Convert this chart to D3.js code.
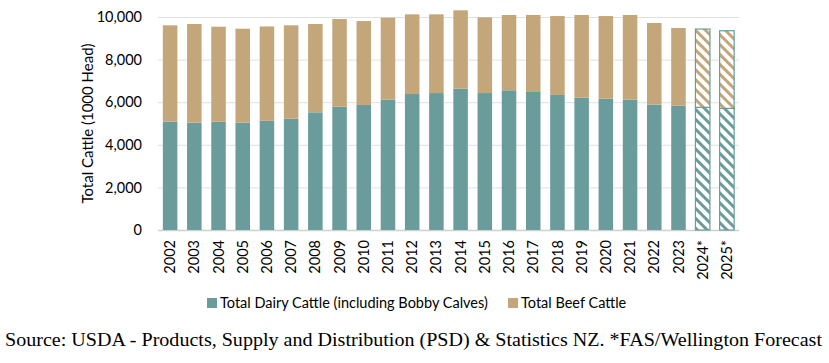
<!DOCTYPE html>
<html lang="en">
<head>
<meta charset="UTF-8">
<title>NZ Cattle Numbers</title>
<style>
  body { margin: 0; background: #fff; }
  svg { display: block; }
  .tick text { font-family: Lato, "Open Sans", sans-serif; fill: #000; }
</style>
</head>
<body>
<svg id="chart" width="829" height="363"></svg>
<script src="https://d3js.org/d3.v7.min.js"></script>
<script>
// --- data ---
const years = ["2002","2003","2004","2005","2006","2007","2008","2009","2010","2011","2012","2013",
               "2014","2015","2016","2017","2018","2019","2020","2021","2022","2023","2024*","2025*"];
const dairy = [5090,5040,5085,5040,5125,5225,5525,5790,5870,6120,6385,6430,
               6635,6430,6560,6480,6340,6210,6165,6120,5885,5835,5760,5710];
const total = [9610,9670,9545,9450,9555,9610,9670,9905,9810,9970,10125,10125,
               10315,9985,10095,10095,10045,10095,10045,10095,9720,9485,9435,9355];
const beef = total.map((t, i) => t - dairy[i]);
const forecast = ["2024*","2025*"];
const yTicks = [0, 2000, 4000, 6000, 8000, 10000];

const DAIRY_COL = "#699c9b";
const BEEF_COL = "#c4a67b";

const svg = d3.select("#chart");
const margin = { left: 158, right: 90, top: 17, bottom: 133 };
const W = 829, H = 363;

const x = d3.scaleBand().domain(years).range([margin.left, W - margin.right]).paddingInner(0.4).paddingOuter(0.2);
const y = d3.scaleLinear().domain([0, 10000]).range([H - margin.bottom, margin.top]);

// hatch patterns for forecast years
const defs = svg.append("defs");
[["hatchDairy", DAIRY_COL], ["hatchBeef", BEEF_COL]].forEach(([id, col]) => {
  const p = defs.append("pattern").attr("id", id).attr("patternUnits", "userSpaceOnUse")
    .attr("width", 7).attr("height", 7).attr("patternTransform", "rotate(-45)");
  p.append("rect").attr("width", 7).attr("height", 7).attr("fill", "#fff");
  p.append("rect").attr("x", 0).attr("width", 3).attr("height", 7).attr("fill", col);
});

// gridlines
svg.append("g").selectAll("line").data(yTicks).join("line")
  .attr("x1", margin.left).attr("x2", W - margin.right)
  .attr("y1", d => y(d) + 0.5).attr("y2", d => y(d) + 0.5)
  .attr("stroke", d => d === 0 ? "#d0d0d0" : "#e0e0e0").attr("stroke-width", d => d === 0 ? 1.5 : 1);

// y axis
const yAxis = svg.append("g").attr("transform", `translate(${margin.left - 10},0)`)
  .call(d3.axisLeft(y).tickValues(yTicks).tickFormat(d3.format(",")).tickSize(0).tickPadding(6));
yAxis.select(".domain").remove();
yAxis.selectAll("text").attr("font-size", 14.5);

// bars
const bars = svg.append("g").selectAll("g").data(years).join("g");
bars.append("rect")
  .attr("x", d => x(d)).attr("width", x.bandwidth())
  .attr("y", (d, i) => y(dairy[i])).attr("height", (d, i) => y(0) - y(dairy[i]))
  .attr("fill", d => forecast.includes(d) ? "url(#hatchDairy)" : DAIRY_COL)
  .attr("stroke", d => forecast.includes(d) ? DAIRY_COL : "none").attr("stroke-width", 1.2);
bars.append("rect")
  .attr("x", d => x(d)).attr("width", x.bandwidth())
  .attr("y", (d, i) => y(total[i])).attr("height", (d, i) => y(dairy[i]) - y(total[i]))
  .attr("fill", d => forecast.includes(d) ? "url(#hatchBeef)" : BEEF_COL)
  .attr("stroke", d => forecast.includes(d) ? DAIRY_COL : "none").attr("stroke-width", 1.2);

// x axis
const xAxis = svg.append("g").attr("transform", `translate(0,${y(0)})`)
  .call(d3.axisBottom(x).tickSize(0).tickPadding(0));
xAxis.select(".domain").remove();
xAxis.selectAll("text")
  .attr("font-size", 14.5)
  .attr("transform", "rotate(-90)")
  .attr("text-anchor", "end")
  .attr("x", -10).attr("y", 0).attr("dy", "0.35em");

// y axis title
svg.append("text")
  .attr("transform", `translate(93,${(y(0) + y(10000)) / 2}) rotate(-90)`)
  .attr("text-anchor", "middle")
  .attr("font-family", "Lato, 'Open Sans', sans-serif").attr("font-size", 15)
  .text("Total Cattle (1000 Head)");

// legend
const legend = [
  { label: "Total Dairy Cattle (including Bobby Calves)", color: DAIRY_COL, x: 207 },
  { label: "Total Beef Cattle", color: BEEF_COL, x: 508 }
];
const lg = svg.append("g").selectAll("g").data(legend).join("g")
  .attr("transform", d => `translate(${d.x},303)`);
lg.append("rect").attr("x", 0).attr("y", -5).attr("width", 10).attr("height", 10).attr("fill", d => d.color);
lg.append("text").attr("x", 13).attr("dy", "0.35em")
  .attr("font-family", "Lato, 'Open Sans', sans-serif").attr("font-size", 14.5)
  .text(d => d.label);

// source note
svg.append("text")
  .attr("x", 5).attr("y", 346)
  .attr("font-family", "'Liberation Serif', 'Times New Roman', serif").attr("font-size", 18)
  .attr("textLength", 817).attr("lengthAdjust", "spacingAndGlyphs")
  .text("Source: USDA - Products, Supply and Distribution (PSD) & Statistics NZ. *FAS/Wellington Forecast");
</script>
</body>
</html>
